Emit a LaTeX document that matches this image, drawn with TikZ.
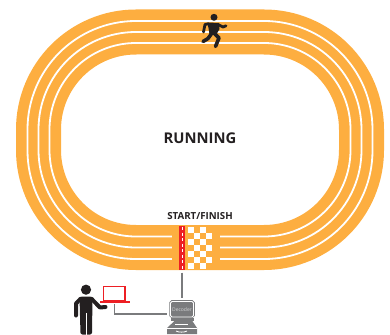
\documentclass[tikz,border=0pt]{standalone}
\usepackage{fontspec}
\setmainfont{Open Sans}
\definecolor{track}{HTML}{FDAE40}
\definecolor{redbar}{HTML}{ED1F24}
\definecolor{wire}{HTML}{7A7B7D}
\definecolor{ink}{HTML}{231F20}
\tikzset{
  bandline/.style={draw=track,line width=45pt},
  laneline/.style={draw=white,line width=1.8pt},
  wireline/.style={draw=wire,line width=1.6pt},
  checker/.style={fill=white,draw=none},
  label/.style={text=ink,inner sep=0pt},
  limb/.style={draw=ink,line width=#1,line cap=round,line join=round},
}
\begin{document}
\begin{tikzpicture}[x=1pt,y=-1pt]
\useasboundingbox (0,0) rectangle (390,334);
% track
\draw[bandline,rounded corners=97.5pt] (38.5,32) rectangle (361.5,247.5);
\draw[laneline,rounded corners=108.5pt] (27.5,21) rectangle (372.5,259);
\draw[laneline,rounded corners=97.5pt] (38.5,32) rectangle (361.5,247.5);
\draw[laneline,rounded corners=86.5pt] (49.5,43) rectangle (350.5,236.5);
% gap in lines at start
\fill[track] (172,232) rectangle (220,264);
% red bar
\fill[redbar] (179,226) rectangle (184.5,270);
\draw[white,line width=.6pt,dash pattern=on 3pt off 2.5pt] (181.8,227) -- (181.8,269);
% checker
\foreach \r in {0,...,6}{
  \foreach \c in {0,...,3}{
    \pgfmathparse{int(mod(\r+\c,2))}
    \ifnum\pgfmathresult=0
      \fill[checker] (188+6.1*\c,226.7+6.05*\r) rectangle ++(6.1,6.05);
    \fi
  }
}
% labels
\node[label,font=\bfseries\fontsize{14.8}{16}\selectfont] (running) at (200,138.5) {RUNNING};
\node[label,font=\bfseries\fontsize{9.7}{11}\selectfont] (start) at (200,216.5) {START/FINISH};
% runner
\fill[ink] (214,17.3) circle (3.5);
\fill[ink,line join=round] (207.5,22.5) -- (219,23) -- (219.5,29) -- (216,35) -- (209.5,34) -- cycle;
\draw[limb=2.8pt] (208.5,23.8) -- (205,24.5) -- (203.5,32);
\draw[limb=2.8pt] (218,24.5) -- (223,27) -- (226,25.8);
\draw[limb=3.6pt] (212,33) -- (208,38.5) -- (203,41.5);
\draw[limb=3.6pt] (214,33) -- (219,38) -- (215.5,46.5);
% person
\fill[ink] (86,289.7) circle (5.1);
\fill[ink,rounded corners=2pt] (79.5,296.7) -- (92.5,296.7) -- (92,334.5) -- (80.5,334.5) -- cycle;
\draw[white,line width=.7pt] (86,313) -- (86,334.5);
\draw[limb=4pt] (80.5,298.8) -- (76,303.5) -- (76,315.5);
\draw[limb=4pt] (91.5,298.8) -- (100,307.5) -- (105.5,307);
% laptop
\draw[redbar,line width=1.3pt] (103.6,286.6) rectangle (125,300.4);
\fill[redbar] (100,301.2) rectangle (130,303.3);
% decoder
\node[draw=wire,double=white,double distance=.9pt,line width=.8pt,fill=wire,rounded corners=1.5pt,minimum width=23pt,minimum height=15.5pt,inner sep=0pt,text=white!65!wire,font=\fontsize{5}{6}\selectfont] (decoder) at (182,309.2) {Decoder};
\fill[wire] (170.5,318.3) rectangle (193.5,321);
\fill[wire] (175,320.5) -- (192,320.5) -- (197,328) -- (197,334) -- (167,334) -- (167,328) -- cycle;
\draw[white,line width=.9pt] (175,324.2) -- (188,324.2);
\draw[white,line width=.6pt] (167,328.3) -- (197,328.3);
\draw[white,line width=.8pt] (176,331) .. controls (178,332.5) and (185,332.5) .. (187,331);
\coordinate (barend) at (182,272.7);
\coordinate (lapend) at (114.3,304);
\draw[wireline,shorten >=3pt] (barend) -- (decoder.north -| barend);
\draw[wireline,shorten >=3pt] (lapend) -- (114.3,313.7) -- (decoder.west |- 0,313.7);
\end{tikzpicture}
\end{document}
